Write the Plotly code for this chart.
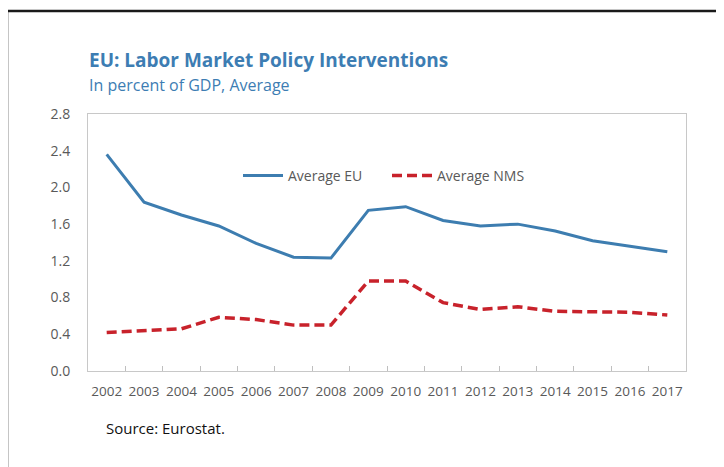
import plotly.graph_objects as go

years = [str(y) for y in range(2002, 2018)]
avg_eu = [2.36, 1.84, 1.70, 1.58, 1.39, 1.24, 1.23, 1.75, 1.79, 1.64, 1.58, 1.60, 1.525, 1.42, 1.36, 1.30]
avg_nms = [0.42, 0.44, 0.46, 0.585, 0.56, 0.50, 0.50, 0.98, 0.98, 0.745, 0.67, 0.70, 0.65, 0.645, 0.64, 0.61]
y_ticks = [0.0, 0.4, 0.8, 1.2, 1.6, 2.0, 2.4, 2.8]

OFF = 8  # page body margin
W, H = 724 - OFF, 467 - OFF
# target screen positions of plot area
SL, SR, ST, SB = 88, 686, 114, 371
L, T = SL - OFF, ST - OFF
R = W - (SR - OFF)
B = H - (SB - OFF)
pw, ph = W - L - R, H - T - B

def px(x):
    return (x - OFF - L) / pw

def py(y):
    return 1 + (T - (y - OFF)) / ph

font = "Open Sans"
fig = go.Figure()
fig.add_trace(go.Scatter(x=years, y=avg_eu, mode="lines", name="Average EU",
                         line=dict(color="#3D7DB0", width=3), legend="legend"))
fig.add_trace(go.Scatter(x=years, y=avg_nms, mode="lines", name="Average NMS",
                         line=dict(color="#C8222B", width=3.5, dash="10px,5px"), legend="legend2"))

leg_common = dict(orientation="h", yanchor="middle", xanchor="left",
                  font=dict(size=14, color="#595959"), bgcolor="rgba(0,0,0,0)",
                  itemwidth=40)

fig.update_layout(
    width=W, height=H,
    margin=dict(l=L, r=R, t=T, b=B),
    paper_bgcolor="white", plot_bgcolor="white",
    font=dict(family=font, color="#595959", size=13),
    showlegend=True,
    legend=dict(x=px(238), y=py(176), **leg_common),
    legend2=dict(x=px(387), y=py(176), **leg_common),
    xaxis=dict(type="category", range=[-0.5, len(years) - 0.5], tickson="boundaries",
               ticks="inside", ticklen=5, tickangle=0, ticklabelstandoff=8,
               tickcolor="#BFBFBF", showline=True, linecolor="#C8C8C8", linewidth=1,
               mirror=True, showgrid=False, tickfont=dict(size=13.5, color="#595959")),
    yaxis=dict(range=[0, 2.8], tickvals=y_ticks, tickformat=".1f", showline=True,
               linecolor="#C8C8C8", linewidth=1, mirror=True, showgrid=False,
               ticks="", zeroline=False, ticklabelstandoff=14,
               tickfont=dict(size=14, color="#595959")),
    shapes=[
        dict(type="line", xref="paper", yref="paper", x0=px(7), x1=px(740), y0=py(11), y1=py(11),
             line=dict(color="#1A1A1A", width=2.5)),
        dict(type="line", xref="paper", yref="paper", x0=px(7), x1=px(7), y0=py(11), y1=py(480),
             line=dict(color="#1A1A1A", width=2.5)),
    ],
    annotations=[
        dict(text="<b>EU: Labor Market Policy Interventions</b>", xref="paper", yref="paper",
             x=px(87), y=py(60), xanchor="left", yanchor="middle", showarrow=False,
             font=dict(size=19, color="#3D7DB3", family=font)),
        dict(text="In percent of GDP, Average", xref="paper", yref="paper",
             x=px(87), y=py(85), xanchor="left", yanchor="middle", showarrow=False,
             font=dict(size=16, color="#3D7DB3", family=font)),
        dict(text="Source: Eurostat.", xref="paper", yref="paper",
             x=px(104), y=py(428), xanchor="left", yanchor="middle", showarrow=False,
             font=dict(size=15, color="#111111", family=font)),
    ],
)

fig.write_html("out.html")
